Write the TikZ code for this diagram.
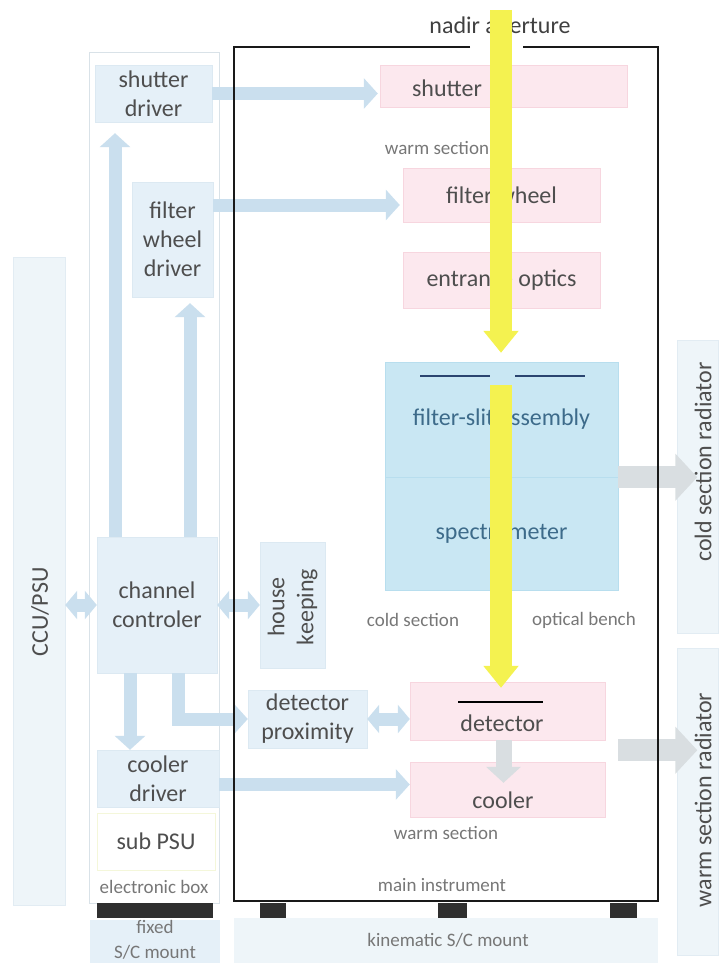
\documentclass[tikz,border=0pt]{standalone}
\usepackage{fontspec}
\setmainfont{Carlito}
\usetikzlibrary{arrows.meta}
\definecolor{lbfill}{HTML}{E5F0F8}
\definecolor{lbborder}{HTML}{DCE9F2}
\definecolor{pkfill}{HTML}{FCE8EE}
\definecolor{pkborder}{HTML}{F7D6DF}
\definecolor{cbfill}{HTML}{C9E7F3}
\definecolor{cbborder}{HTML}{B8DEEE}
\definecolor{arrblue}{HTML}{CADFEE}
\definecolor{arrgrey}{HTML}{D9DEE1}
\definecolor{txtgrey}{HTML}{4E4E4E}
\definecolor{lbltxt}{HTML}{777777}
\definecolor{bluetxt}{HTML}{3D6B8A}
\definecolor{beamY}{HTML}{F4F250}
\definecolor{panelfill}{HTML}{EEF5F9}
\definecolor{panelborder}{HTML}{E2ECF3}
\definecolor{ebborder}{HTML}{D9E2E8}
\definecolor{slitblue}{HTML}{2B4570}
\definecolor{footdark}{HTML}{2F2F2F}
\newcommand\mainsz{\fontsize{24}{29}\selectfont}
\newcommand\smallsz{\fontsize{19}{25}\selectfont}
\newcommand\radsz{\fontsize{24}{29}\selectfont}
\begin{document}
\begin{tikzpicture}[x=1pt,y=-1pt,
  lbox/.style={draw=lbborder, fill=lbfill, inner sep=0pt, font=\mainsz, text=txtgrey, align=center},
  pbox/.style={draw=pkborder, fill=pkfill, inner sep=0pt, font=\mainsz, text=txtgrey, align=center},
  cbox/.style={draw=cbborder, fill=cbfill, inner sep=0pt, font=\mainsz, text=bluetxt, align=center},
  panel/.style={draw=panelborder, fill=panelfill, inner sep=0pt},
  maintxt/.style={font=\mainsz, text=txtgrey, inner sep=0pt, align=center},
  lbl/.style={font=\smallsz, text=lbltxt, inner sep=0pt, align=center},
  radtxt/.style={font=\radsz, text=txtgrey, inner sep=0pt, rotate=90},
  barrow/.style={draw=arrblue, line width=13pt, -{Triangle[length=14pt,width=30pt]}},
  bdarrow/.style={draw=arrblue, line width=13pt, {Triangle[length=12pt,width=28pt]}-{Triangle[length=12pt,width=28pt]}},
  garrow/.style={draw=arrgrey, line width=22pt, -{Triangle[length=22pt,width=46pt]}},
  gsmall/.style={draw=arrgrey, line width=16pt, -{Triangle[length=16pt,width=34pt]}},
  beam/.style={draw=beamY, line width=22pt, -{Triangle[length=22pt,width=34pt]}},
  foot/.style={fill=footdark, draw=none, inner sep=0pt}
]
\useasboundingbox (0,0) rectangle (719,963);

% background panels
\node[panel, minimum width=52, minimum height=648] (ccu) at (39,581) {};
\node[panel, minimum width=41, minimum height=293] (crad) at (698,486.5) {};
\node[panel, minimum width=41, minimum height=307] (wrad) at (698,801.5) {};
\node[draw=ebborder, fill=white, inner sep=0pt, minimum width=130, minimum height=851] (elbox) at (154,477.5) {};
\node[fill=panelfill, inner sep=0pt, minimum width=424, minimum height=45] (kin) at (446,940.5) {};
\node[fill=lbfill, inner sep=0pt, minimum width=130, minimum height=43] (fixm) at (155,941.5) {};

% electronic box contents
\node[lbox, minimum width=117, minimum height=57] (shdrv) at (153.5,93.5) {shutter\\driver};
\node[lbox, minimum width=81, minimum height=115] (fwdrv) at (172.5,239.5) {filter\\wheel\\driver};
\node[lbox, minimum width=120, minimum height=136] (chctl) at (157,605) {channel\\controler};
\node[lbox, minimum width=122, minimum height=57] (cdrv) at (158,778.5) {cooler\\driver};
\node[draw=ebborder!70!yellow!40, fill=white, inner sep=0pt, font=\mainsz, text=txtgrey, minimum width=118, minimum height=57] (subpsu) at (156,841.5) {sub PSU};

% main instrument contents
\node[lbox, minimum width=65, minimum height=126] (hk) at (292.5,605) {};
\node[lbox, minimum width=119, minimum height=58] (detprox) at (307.5,719) {detector\\proximity};
\node[pbox, minimum width=247, minimum height=42] (shut) at (503.5,86) {};
\node[pbox, minimum width=197, minimum height=54] (fw) at (501.5,195) {filter wheel};
\node[pbox, minimum width=197, minimum height=56] (eo) at (501.5,280) {entrance optics};
\node[cbox, minimum width=233, minimum height=115] (fsa) at (501.5,419.5) {filter-slit assembly};
\node[cbox, minimum width=233, minimum height=113] (spec) at (501.5,533.5) {spectrometer};
\node[pbox, minimum width=195, minimum height=58] (det) at (507.5,711) {};
\node[pbox, minimum width=195, minimum height=55] (cool) at (507.5,789.5) {};

% connectors (electronics)
\draw[barrow] (shdrv.east) -- ([xshift=-2pt]shdrv.east -| shut.west);
\draw[barrow] ([yshift=-10pt]fwdrv.east |- fw.west) -- ([yshift=-10pt,xshift=-3pt]fw.west);
\draw[barrow] ([xshift=-42pt]chctl.north) -- ([xshift=-42pt,yshift=-11pt]chctl.north |- shdrv.south);
\draw[barrow] ([xshift=33pt]chctl.north) -- ([xshift=33pt,yshift=-6pt]chctl.north |- fwdrv.south);
\draw[bdarrow] (ccu.east |- chctl.west) -- (chctl.west);
\draw[bdarrow] (chctl.east) -- (chctl.east -| hk.west);
\draw[barrow] ([xshift=-27pt]chctl.south) -- ([xshift=-27pt]chctl.south |- cdrv.north);
\draw[barrow] ([xshift=21pt]chctl.south) |- (detprox.west);
\draw[bdarrow] (detprox.east) -- (detprox.east -| det.west);
\draw[barrow] ([yshift=-6pt]cdrv.east) -- ([yshift=-6pt]cdrv.east -| cool.west);

% thermal connectors
\draw[gsmall] ([xshift=-4pt]det.south) -- ([xshift=-4pt,yshift=-21pt]cool.north);
\draw[garrow] (fsa.south east) -- ([xshift=20pt]fsa.south east -| crad.west);
\draw[garrow] ([xshift=13pt,yshift=-10pt]det.south east) -- ([xshift=20pt,yshift=-10pt]det.south east -| wrad.west);

% main instrument frame
\draw[line width=2.2pt, draw=black!90] (470,47) -- (234,47) -- (234,901) -- (658,901) -- (658,47) -- (523,47);

% feet
\node[foot, minimum width=116, minimum height=15] (elbar) at (155,910.5) {};
\node[foot, minimum width=26, minimum height=15] (foot1) at (273,910.5) {};
\node[foot, minimum width=29, minimum height=15] (foot2) at (452.5,910.5) {};
\node[foot, minimum width=27, minimum height=15] (foot3) at (623.5,910.5) {};

% slit and detector lines
\draw[slitblue, line width=2.5pt] (420,376) -- (490,376);
\draw[slitblue, line width=2.5pt] (515,376) -- (585,376);
\draw[black, line width=2pt] (458,702) -- (543,702);

% labels
\node[maintxt, text=black!75] (nadir) at (500,27) {nadir aperture};
\node[maintxt] (shuttxt) at (447,88) {shutter};
\node[maintxt] (dettxt) at (502,723) {detector};
\node[maintxt] (cooltxt) at (503,800) {cooler};
\node[maintxt, rotate=90, align=center] (hktxt) at (292.5,607) {house\\keeping};
\node[maintxt, rotate=90] (ccutxt) at (40,612) {CCU/PSU};
\node[radtxt] (cradtxt) at (703,462) {cold section radiator};
\node[radtxt] (wradtxt) at (703,800) {warm section radiator};
\node[lbl] (warm1) at (437,148) {warm section};
\node[lbl] (coldlbl) at (413,620) {cold section};
\node[lbl] (bench) at (584,620) {optical bench};
\node[lbl] (warm2) at (446,833) {warm section};
\node[lbl] (maininst) at (442,885) {main instrument};
\node[lbl] (kintxt) at (448,940) {kinematic S/C mount};
\node[lbl] (eltxt) at (154,887) {electronic box};
\node[lbl] (fixtxt) at (155,940) {fixed\\S/C mount};

% light beam
\coordinate (ap) at (501,10);
\draw[beam] (ap) -- ([yshift=9pt]ap |- fsa.north);
\draw[beam] ([yshift=-23pt]ap |- fsa.north) -- ([yshift=-6pt]ap |- det.north);
\end{tikzpicture}
\end{document}
